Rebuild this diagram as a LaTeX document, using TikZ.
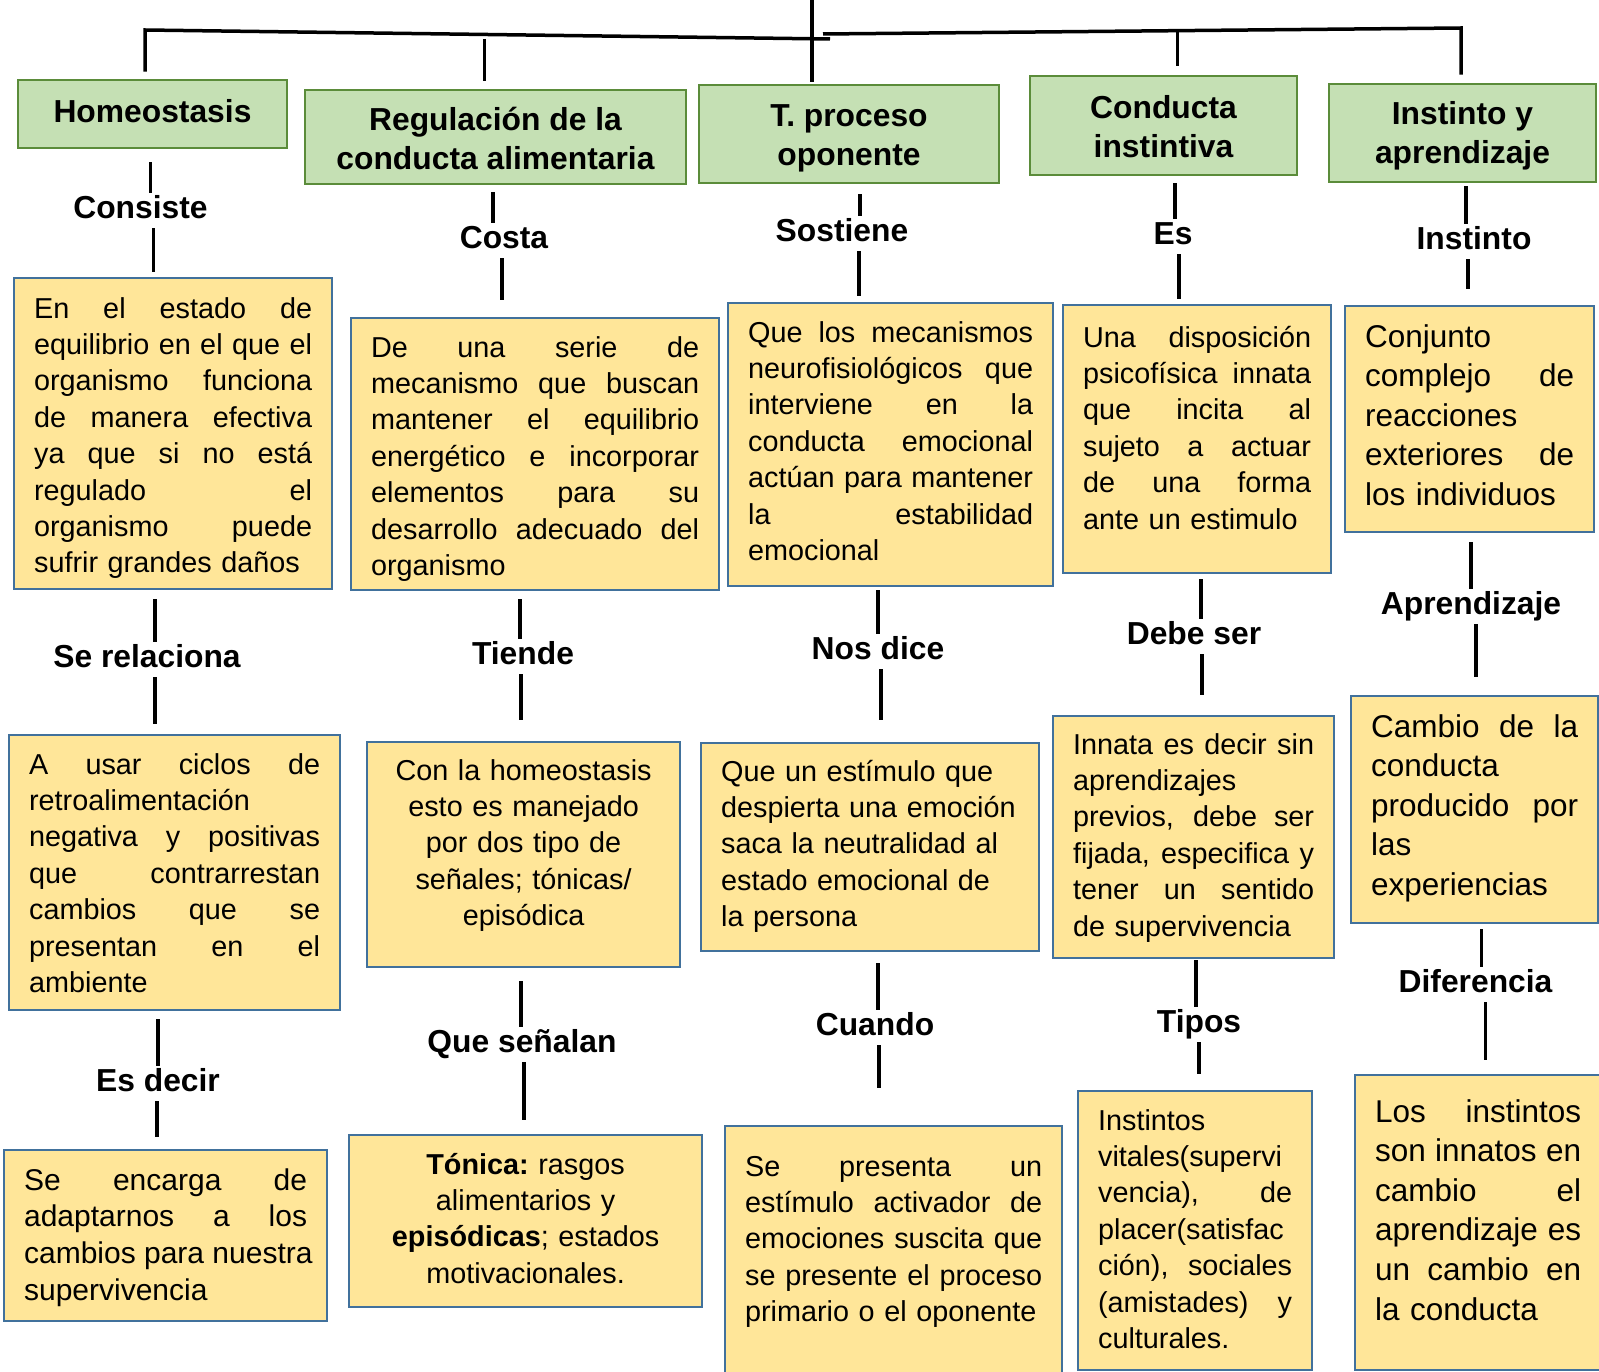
\documentclass[tikz,border=0pt]{standalone}
\usepackage{fontspec}
\setmainfont{Liberation Sans}
\usepackage{tikz}

\definecolor{conceptfill}{HTML}{C5E0B4}
\definecolor{conceptline}{HTML}{5B8C3A}
\definecolor{notefill}{HTML}{FFE699}
\definecolor{noteline}{HTML}{41719C}

% justified line
\newcommand{\jl}[1]{{\spaceskip=0.278em plus 1fil\xspaceskip=0pt\makebox[\hsize][s]{#1}}}

\begin{document}
\begin{tikzpicture}[x=1pt, y=-1pt]
    \tikzstyle{concept} = [rectangle, draw=conceptline, line width=2.5pt, fill=conceptfill, inner sep=0pt, align=center, font=\bfseries\fontsize{31.8}{39}\selectfont]
    \tikzstyle{note} = [rectangle, draw=noteline, line width=2.2pt, fill=notefill, anchor=north west, inner xsep=20pt, inner ysep=0pt, align=left, font=\fontsize{28.8}{36.4}\selectfont]
    \tikzstyle{bignote} = [note, font=\fontsize{31.5}{39.6}\selectfont]
    \tikzstyle{verb} = [inner sep=0pt, text height=25.4pt, text depth=9.6pt, font=\bfseries\fontsize{31.8}{39}\selectfont]
    \tikzstyle{link} = [line width=3.5pt]

    \useasboundingbox (0,0) rectangle (1599,1372);

    % top concepts
    \node (g1) [concept, minimum width=269pt, minimum height=68pt, text depth=6pt] at (152.5,114) {Homeostasis};
    \node (g2) [concept, minimum width=381pt, minimum height=94pt, text height=66pt, text depth=0pt] at (495.5,137) {Regulación de la\\conducta alimentaria};
    \node (g3) [concept, minimum width=300pt, minimum height=98pt, text height=64pt, text depth=0pt] at (849,134) {T. proceso\\oponente};
    \node (g4) [concept, minimum width=267pt, minimum height=99pt, text height=65pt, text depth=0pt] at (1163.5,125.5) {Conducta\\instintiva};
    \node (g5) [concept, minimum width=267pt, minimum height=98pt, text height=62pt, text depth=0pt] at (1462.5,133) {Instinto y\\aprendizaje};

    % bus
    \coordinate (root) at (812,0);
    \coordinate (busL) at (145,30);
    \coordinate (busM) at (830,39);
    \coordinate (busN) at (823,34);
    \coordinate (busR) at (1461,28);
    \draw[link, shorten <=7pt] (g1.north -| busL) -- (busL) -- (busM);
    \draw[link, shorten <=8pt] (g5.north -| busR) -- (busR) -- (busN);
    \draw[link, shorten >=2pt] (root) -- (root |- g3.north);
    \draw[link, shorten >=8pt] ([xshift=-11pt]g2.north |- busM) -- ([xshift=-11pt]g2.north);
    \draw[link, shorten <=4pt, shorten >=9pt] ([xshift=14pt]g4.north |- busR) -- ([xshift=14pt]g4.north);

    % second row
    \node (b1) [note, text width=278pt, text height=40pt, text depth=271pt] at (13,277) {\jl{En el estado de}\\\jl{equilibrio en el que el}\\\jl{organismo funciona}\\\jl{de manera efectiva}\\\jl{ya que si no está}\\\jl{regulado el}\\\jl{organismo puede}\\sufrir grandes daños};
    \node (b2) [note, text width=328pt, text height=39pt, text depth=233pt] at (350,317) {\jl{De una serie de}\\\jl{mecanismo que buscan}\\\jl{mantener el equilibrio}\\\jl{energético e incorporar}\\\jl{elementos para su}\\\jl{desarrollo adecuado del}\\organismo};
    \node (b3) [note, text width=285pt, text height=39pt, text depth=244pt] at (727,302) {\jl{Que los mecanismos}\\\jl{neurofisiológicos que}\\\jl{interviene en la}\\\jl{conducta emocional}\\\jl{actúan para mantener}\\\jl{la estabilidad}\\emocional};
    \node (b4) [note, text width=228pt, text height=42pt, text depth=226pt] at (1062,304) {\jl{Una disposición}\\\jl{psicofísica innata}\\\jl{que incita al}\\\jl{sujeto a actuar}\\\jl{de una forma}\\ante un estimulo};
    \node (b5) [bignote, text width=209pt, text height=41pt, text depth=185pt] at (1344,305) {Conjunto\\\jl{complejo de}\\reacciones\\\jl{exteriores de}\\los individuos};

    % third row
    \node (c1) [note, text width=291pt, text height=39pt, text depth=236pt] at (8,734) {\jl{A usar ciclos de}\\retroalimentación\\\jl{negativa y positivas}\\\jl{que contrarrestan}\\\jl{cambios que se}\\\jl{presentan en el}\\ambiente};
    \node (c2) [note, align=center, text width=273pt, text height=38pt, text depth=187pt] at (366,741) {Con la homeostasis\\esto es manejado\\por dos tipo de\\señales;\ tónicas/\\episódica};
    \node (c3) [note, text width=298pt, text height=38pt, text depth=170pt] at (700,742) {Que un estímulo que\\despierta una emoción\\saca la neutralidad al\\estado emocional de\\la persona};
    \node (c4) [note, text width=241pt, text height=38pt, text depth=204pt] at (1052,715) {\jl{Innata es decir sin}\\aprendizajes\\\jl{previos, debe ser}\\\jl{fijada, especifica y}\\\jl{tener un sentido}\\de supervivencia};
    \node (c5) [bignote, text width=207pt, text height=41pt, text depth=186pt] at (1350,695) {\jl{Cambio de la}\\conducta\\\jl{producido por}\\las\\experiencias};

    % fourth row
    \node (d1) [note, font=\fontsize{30}{36.7}\selectfont, text width=283pt, text height=40pt, text depth=131pt] at (3,1149) {\jl{Se encarga de}\\\jl{adaptarnos a los}\\\jl{cambios para nuestra}\\supervivencia};
    \node (d2) [note, align=center, text width=313pt, text height=39pt, text depth=133pt] at (348,1134) {\textbf{Tónica:}\ rasgos\\alimentarios y\\\textbf{episódicas};\ estados\\motivacionales.};
    \node (d3) [note, text width=297pt, text height=50pt, text depth=265pt] at (724,1125) {\jl{Se presenta un}\\\jl{estímulo activador de}\\\jl{emociones suscita que}\\\jl{se presente el proceso}\\primario o el oponente};
    \node (d4) [note, text width=194pt, text height=39pt, text depth=240pt] at (1077,1090) {Instintos\\vitales(supervi\\\jl{vencia), de}\\placer(satisfac\\\jl{ción), sociales}\\\jl{(amistades) y}\\culturales.};
    \node (d5) [bignote, text width=206pt, text height=47pt, text depth=248pt] at (1354,1074) {\jl{Los instintos}\\\jl{son innatos en}\\\jl{cambio el}\\\jl{aprendizaje es}\\\jl{un cambio en}\\la conducta};

    % link words
    \node (consiste) [verb] at (140.5,210.5) {Consiste};
    \node (costa) [verb] at (504,240.5) {Costa};
    \node (sostiene) [verb] at (842,233.5) {Sostiene};
    \node (es) [verb] at (1173,236.5) {Es};
    \node (instinto) [verb] at (1474,241.5) {Instinto};
    \node (relaciona) [verb] at (147,659.5) {Se relaciona};
    \node (tiende) [verb] at (523,656.5) {Tiende};
    \node (nosdice) [verb] at (878,651.5) {Nos dice};
    \node (debeser) [verb] at (1194,636.5) {Debe ser};
    \node (aprendizaje) [verb] at (1471,606.5) {Aprendizaje};
    \node (esdecir) [verb] at (158,1083.5) {Es decir};
    \node (senalan) [verb] at (522,1044.5) {Que señalan};
    \node (cuando) [verb] at (875,1027.5) {Cuando};
    \node (tipos) [verb] at (1199,1024.5) {Tipos};
    \node (diferencia) [verb] at (1475.5,984.5) {Diferencia};

    % column 1
    \draw[link, shorten <=13pt] ([xshift=10pt]consiste.north |- g1.south) -- ([xshift=10pt]consiste.north);
    \draw[link, shorten >=5pt] ([xshift=13pt]consiste.south) -- ([xshift=13pt]consiste.south |- b1.north);
    \draw[link, shorten <=9pt] ([xshift=8pt]relaciona.north |- b1.south) -- ([xshift=8pt]relaciona.north);
    \draw[link, shorten >=10pt] ([xshift=8pt]relaciona.south) -- ([xshift=8pt]relaciona.south |- c1.north);
    \draw[link, shorten <=8pt] (esdecir.north |- c1.south) -- (esdecir.north);
    \draw[link, shorten >=12pt] ([xshift=-1pt]esdecir.south) -- ([xshift=-1pt]esdecir.south |- d1.north);

    % column 2
    \draw[link, shorten <=7pt] ([xshift=-11pt]costa.north |- g2.south) -- ([xshift=-11pt]costa.north);
    \draw[link, shorten >=17pt] ([xshift=-2pt]costa.south) -- ([xshift=-2pt]costa.south |- b2.north);
    \draw[link, shorten <=8pt] ([xshift=-3pt]tiende.north |- b2.south) -- ([xshift=-3pt]tiende.north);
    \draw[link, shorten >=21pt] ([xshift=-2pt]tiende.south) -- ([xshift=-2pt]tiende.south |- c2.north);
    \draw[link, shorten <=13pt] ([xshift=-1pt]senalan.north |- c2.south) -- ([xshift=-1pt]senalan.north);
    \draw[link, shorten >=14pt] ([xshift=2pt]senalan.south) -- ([xshift=2pt]senalan.south |- d2.north);

    % column 3
    \draw[link, shorten <=10pt] ([xshift=18pt]sostiene.north |- g3.south) -- ([xshift=18pt]sostiene.north);
    \draw[link, shorten >=6pt] ([xshift=17pt]sostiene.south) -- ([xshift=17pt]sostiene.south |- b3.north);
    \draw[link, shorten <=3pt] (nosdice.north |- b3.south) -- (nosdice.north);
    \draw[link, shorten >=22pt] ([xshift=3pt]nosdice.south) -- ([xshift=3pt]nosdice.south |- c3.north);
    \draw[link, shorten <=11pt] ([xshift=3pt]cuando.north |- c3.south) -- ([xshift=3pt]cuando.north);
    \draw[link, shorten >=37pt] ([xshift=4pt]cuando.south) -- ([xshift=4pt]cuando.south |- d3.north);

    % column 4
    \draw[link, shorten <=7pt] ([xshift=2pt]es.north |- g4.south) -- ([xshift=2pt]es.north);
    \draw[link, shorten >=5pt] ([xshift=6pt]es.south) -- ([xshift=6pt]es.south |- b4.north);
    \draw[link, shorten <=5pt] ([xshift=7pt]debeser.north |- b4.south) -- ([xshift=7pt]debeser.north);
    \draw[link, shorten >=20pt] ([xshift=8pt]debeser.south) -- ([xshift=8pt]debeser.south |- c4.north);
    \draw[link, shorten <=1pt] ([xshift=-3pt]tipos.north |- c4.south) -- ([xshift=-3pt]tipos.north);
    \draw[link, shorten >=16pt] (tipos.south) -- (tipos.south |- d4.north);

    % column 5
    \draw[link, shorten <=3pt] ([xshift=-8pt]instinto.north |- g5.south) -- ([xshift=-8pt]instinto.north);
    \draw[link, shorten >=16pt] ([xshift=-6pt]instinto.south) -- ([xshift=-6pt]instinto.south |- b5.north);
    \draw[link, shorten <=9pt] (aprendizaje.north |- b5.south) -- (aprendizaje.north);
    \draw[link, shorten >=18pt] ([xshift=5pt]aprendizaje.south) -- ([xshift=5pt]aprendizaje.south |- c5.north);
    \draw[link, shorten <=5pt] ([xshift=6pt]diferencia.north |- c5.south) -- ([xshift=6pt]diferencia.north);
    \draw[link, shorten >=14pt] ([xshift=10pt]diferencia.south) -- ([xshift=10pt]diferencia.south |- d5.north);
\end{tikzpicture}
\end{document}
